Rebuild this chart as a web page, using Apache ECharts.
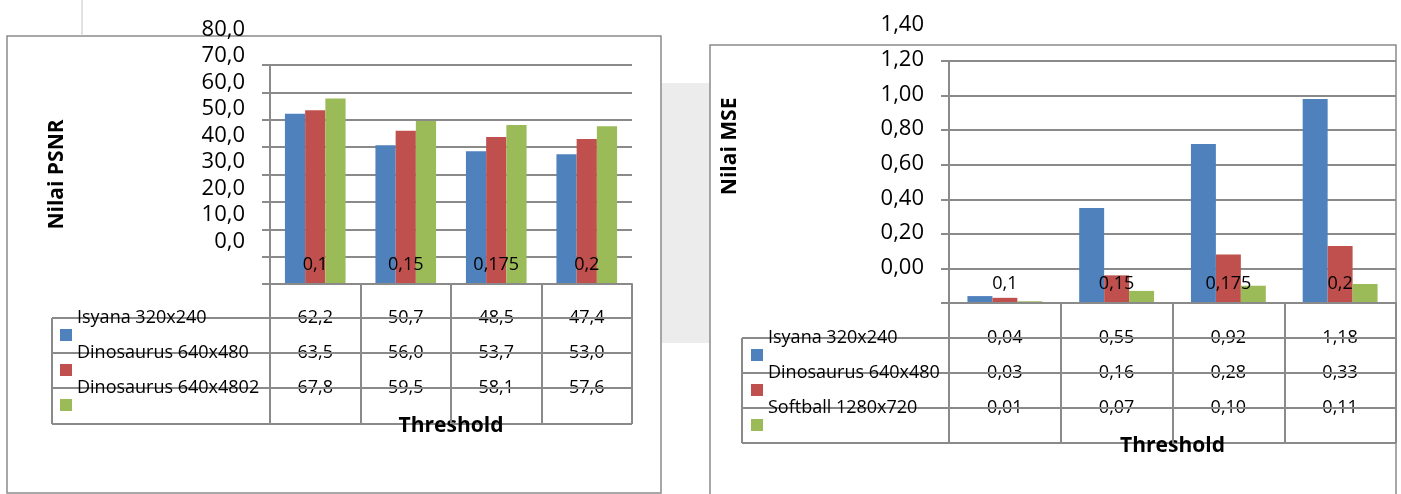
<!DOCTYPE html>
<html><head><meta charset="utf-8">
<script src="https://cdn.jsdelivr.net/npm/echarts@6/dist/echarts.min.js"></script>
<style>html,body{margin:0;padding:0;background:#fff}#c{width:1401px;height:494px}</style>
</head><body><div id="c"></div>
<script>
// ---------- data ----------
const categories = ['0,1', '0,15', '0,175', '0,2'];
const psnrNames = ['Isyana 320x240', 'Dinosaurus 640x480', 'Dinosaurus 640x4802'];
const psnrIsyana = [62.2, 50.7, 48.5, 47.4];
const psnrDino = [63.5, 56.0, 53.7, 53.0];
const psnrDino2 = [67.8, 59.5, 58.1, 57.6];
const mseNames = ['Isyana 320x240', 'Dinosaurus 640x480', 'Softball 1280x720'];
const mseIsyana = [0.04, 0.55, 0.92, 1.18];
const mseDino = [0.03, 0.16, 0.28, 0.33];
const mseSoftball = [0.01, 0.07, 0.10, 0.11];
const psnrTicks = [0, 80, 10];   // min, max, interval
const mseTicks = [0, 1.4, 0.2];

// ---------- style / layout ----------
const colors = ['#4f81bd', '#c0504d', '#9bbb59'];
const FONT = 'Open Sans';
const LINE = '#8a8a8a';
const L = { left: 270, top: 65, width: 362, height: 219, lblTop: 29.5, lblH: 212.2,
            tableLeft: 52, rows: [34, 69, 104, 140], legLeft: 60, dec: 1 };
const R = { left: 949, top: 61, width: 447, height: 242, lblTop: 25, lblH: 242.7,
            tableLeft: 742, rows: [35, 70, 105, 140], legLeft: 751, dec: 2 };

const fmt = (v, d) => v.toFixed(d).replace('.', ',');

const grids = [], xAxes = [], yAxes = [], series = [], legends = [], graphics = [];

function buildChart(C, names, values, ticks, yName, nameOnLabelAxis, nameGapY, nameGapX) {
  const gMain = grids.length;
  grids.push({ left: C.left, top: C.top, width: C.width, height: C.height, outerBoundsMode: 'none' });
  const gLbl = grids.length;
  grids.push({ left: C.left, top: C.lblTop, width: C.width, height: C.lblH, outerBoundsMode: 'none' });
  const bottom = C.top + C.height;

  const xMain = xAxes.length;
  xAxes.push({
    gridIndex: gMain, type: 'category', data: categories, z: 10,
    axisLine: { show: true, lineStyle: { color: LINE, width: 2 } },
    axisTick: { show: true, alignWithLabel: false, interval: 0, length: C.rows[3], lineStyle: { color: LINE, width: 2 } },
    axisLabel: { inside: true, margin: 19, verticalAlign: 'middle', fontSize: 18, color: '#000', fontFamily: FONT, interval: 0 },
    splitLine: { show: false },
    name: 'Threshold', nameLocation: 'middle', nameGap: nameGapX,
    nameTextStyle: { fontSize: 21, fontWeight: 'bold', color: '#000', fontFamily: FONT }
  });
  // data table rows, one axis per series
  values.forEach((arr, r) => {
    xAxes.push({
      gridIndex: gMain, type: 'category', data: categories, position: 'bottom', offset: C.rows[r],
      axisLine: { show: false }, axisTick: { show: false }, splitLine: { show: false },
      axisLabel: { margin: 0, verticalAlign: 'middle', fontSize: 18, color: '#000', fontFamily: FONT, interval: 0,
                   formatter: (v, i) => fmt(arr[i], C.dec) }
    });
  });
  xAxes.push({ gridIndex: gLbl, type: 'category', data: categories, show: false });

  const yMain = yAxes.length;
  const yMainObj = {
    gridIndex: gMain, type: 'value', min: ticks[0], max: ticks[1], interval: ticks[2],
    axisLine: { show: true, lineStyle: { color: LINE, width: 2 } },
    axisTick: { show: true, inside: false, length: 8, lineStyle: { color: LINE, width: 2 } },
    axisLabel: { show: false },
    splitLine: { show: true, lineStyle: { color: LINE, width: 2 } }
  };
  const yLblObj = {
    gridIndex: gLbl, type: 'value', min: ticks[0], max: ticks[1], interval: ticks[2],
    axisLine: { show: false }, axisTick: { show: false }, splitLine: { show: false },
    axisLabel: { margin: 25, fontSize: 22, color: '#000', fontFamily: FONT, formatter: v => fmt(v, C.dec) }
  };
  const nameObj = { name: yName, nameLocation: 'middle', nameGap: nameGapY,
    nameTextStyle: { fontSize: 21, fontWeight: 'bold', color: '#000', fontFamily: FONT } };
  Object.assign(nameOnLabelAxis ? yLblObj : yMainObj, nameObj);
  yAxes.push(yMainObj);
  yAxes.push(yLblObj);

  values.forEach((arr, s) => {
    series.push({
      type: 'bar', name: names[s], xAxisIndex: xMain, yAxisIndex: yMain, data: arr,
      itemStyle: { color: colors[s] }, barGap: '0%', barCategoryGap: '33%', z: 2
    });
  });

  // legend key sits below-left of its name (Excel data-table look)
  legends.push({
    orient: 'vertical', left: C.legLeft, top: bottom + C.rows[0] + 11 - 34, padding: 0,
    itemWidth: 12, itemHeight: 46, itemGap: -11, selectedMode: false,
    icon: 'path://M0,0 M0,34 h12 v12 h-12 Z',
    itemStyle: { borderWidth: 0 },
    data: names,
    textStyle: { fontSize: 18, color: '#000', fontFamily: FONT }
  });

  const right = C.left + C.width;
  C.rows.forEach(off => {
    graphics.push({ type: 'line', z: 1, shape: { x1: C.tableLeft, y1: bottom + off, x2: right, y2: bottom + off },
                    style: { stroke: LINE, lineWidth: 2 } });
  });
  graphics.push({ type: 'line', z: 1, shape: { x1: C.tableLeft, y1: bottom + C.rows[0], x2: C.tableLeft, y2: bottom + C.rows[3] },
                  style: { stroke: LINE, lineWidth: 2 } });
}

// frames
graphics.push({ type: 'rect', z: -30, shape: { x: 661, y: 83, width: 49, height: 260 }, style: { fill: '#ececec' } });
graphics.push({ type: 'line', z: -5, shape: { x1: 82, y1: 0, x2: 82, y2: 36 }, style: { stroke: '#c4c4c4', lineWidth: 1 } });
graphics.push({ type: 'rect', z: -10, shape: { x: 7, y: 36, width: 654, height: 457 }, style: { fill: '#fff', stroke: LINE, lineWidth: 1.5 } });
graphics.push({ type: 'rect', z: -10, shape: { x: 710, y: 45, width: 686, height: 470 }, style: { fill: '#fff', stroke: LINE, lineWidth: 1.5 } });

buildChart(L, psnrNames, [psnrIsyana, psnrDino, psnrDino2], psnrTicks, 'Nilai PSNR', false, 202, 132);
buildChart(R, mseNames, [mseIsyana, mseDino, mseSoftball], mseTicks, 'Nilai MSE', true, 208, 133);

const chart = echarts.init(document.getElementById('c'));
chart.setOption({
  backgroundColor: '#fff',
  animation: false,
  textStyle: { fontFamily: FONT },
  grid: grids, xAxis: xAxes, yAxis: yAxes, series: series, legend: legends,
  graphic: { elements: graphics }
});
</script></body></html>
